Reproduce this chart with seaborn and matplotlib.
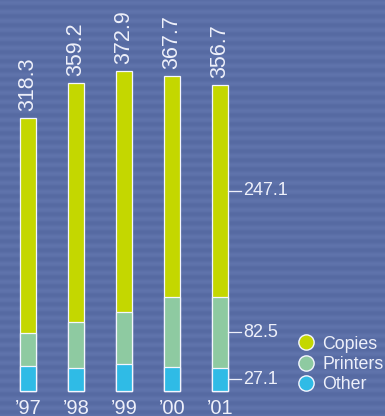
import matplotlib
matplotlib.use("Agg")
import matplotlib.pyplot as plt
import matplotlib.transforms as mtransforms
from matplotlib.colors import LinearSegmentedColormap
from matplotlib.lines import Line2D
import numpy as np
import seaborn as sns

# data
years = ["\u201997", "\u201998", "\u201999", "\u201900", "\u201901"]
other = [29.0, 26.8, 31.5, 28.0, 27.1]
printers = [38.6, 53.6, 60.5, 81.6, 82.5]
totals = [318.3, 359.2, 372.9, 367.7, 356.7]
series_names = ["Copies", "Printers", "Other"]

copies_col = "#c4d700"
printers_col = "#8ecaa1"
other_col = "#2fbbe6"
bg_dark = "#566aa2"
bg_light = "#5f73ab"
text_col = "#eef0fa"

plt.rcParams["font.family"] = ["Liberation Sans", "DejaVu Sans"]

fig = plt.figure(figsize=(3.85, 4.16), dpi=100)
ax = fig.add_axes([0, 0, 1, 1])

lower = [o + p for o, p in zip(other, printers)]
bar_w = 0.333

# stacked bars drawn as layered cumulative bars, tallest first
for vals, col in [(totals, copies_col), (lower, printers_col), (other, other_col)]:
    sns.barplot(x=years, y=vals, color=col, width=bar_w, saturation=1,
                edgecolor="#f4f6ff", linewidth=0.9, ax=ax, zorder=3)

xlim = (-0.583, 7.44)
ylim = (-29.1, 455.7)
ax.set_xlim(*xlim)
ax.set_ylim(*ylim)

# striped background
rows = np.arange(416)
stripes = 0.5 + 0.5 * np.sin(2 * np.pi * rows / 9.0)
cmap = LinearSegmentedColormap.from_list("bg", [bg_dark, bg_light])
ax.imshow(stripes[:, None], cmap=cmap, aspect="auto", zorder=0,
          extent=(xlim[0], xlim[1], ylim[0], ylim[1]), origin="upper")
ax.set_xlim(*xlim)
ax.set_ylim(*ylim)
ax.axis("off")

# totals above bars
for i, t in enumerate(totals):
    ax.text(i, t + 8, f"{t}", rotation=90, ha="center", va="bottom",
            color=text_col, fontsize=15.5, zorder=4)

# year labels along the bottom
trans = mtransforms.blended_transform_factory(ax.transData, ax.transAxes)
for i, y in enumerate(years):
    ax.text(i, 0.006, y, transform=trans, ha="center", va="baseline",
            color=text_col, fontsize=14.5, zorder=4)

# segment values for the last year
last = len(years) - 1
copies_last = round(totals[last] - lower[last], 1)
seg_mid = [other[last] / 2, other[last] + printers[last] / 2,
           lower[last] + copies_last / 2]
seg_val = [other[last], printers[last], copies_last]
for m, v in zip(seg_mid, seg_val):
    ax.plot([last + bar_w / 2, last + 0.44], [m, m], color=text_col,
            lw=0.9, zorder=4)
    ax.text(last + 0.49, m, f"{v}", ha="left", va="center",
            color=text_col, fontsize=13, zorder=4)

handles = [Line2D([], [], marker="o", ls="", markersize=11,
                  markerfacecolor=c, markeredgecolor="#f4f6ff",
                  markeredgewidth=1.0)
           for c in [copies_col, printers_col, other_col]]
ax.legend(handles, series_names, loc="lower left",
          bbox_to_anchor=(0.771, 0.055), frameon=False, fontsize=12.8,
          labelcolor=text_col, handlelength=1.0, handletextpad=0.42,
          labelspacing=0.18, borderpad=0, borderaxespad=0)

fig.savefig("out.png", dpi=100)
